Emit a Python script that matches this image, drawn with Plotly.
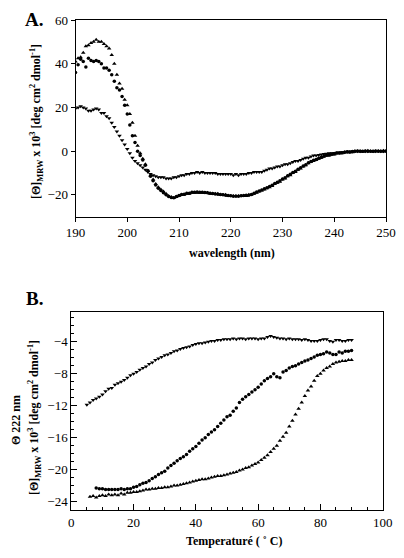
import plotly.graph_objects as go

W, H = 404, 558
BODY = 8  # default page margin around the plot div
FW, FH = W - 2 * BODY, H - 2 * BODY

# ---------------- Panel A data (wavelength scan, 0.5 nm steps) ----------------
wl_start, wl_step = 190.0, 0.5
cd_up = [41, 42.5, 43, 45, 48, 48.5, 49.5, 50, 51, 50, 50, 49, 48, 47, 44, 40, 35, 31, 28.5, 23.5,
         21, 17, 13, 7, 2.5, -1, -3.5, -6, -9, -11, -13, -15, -16.5, -17.5, -18.5, -19.5, -20.5, -21, -21.5, -21,
         -20.5, -20, -20, -19.5, -19.5, -19, -19, -19, -19, -19, -19, -19, -19.5, -19.5, -19.5, -19.5, -20, -20, -20, -20.5,
         -20.5, -20.5, -20.5, -20.5, -20.5, -20.5, -20.5, -20, -20, -19.5, -19, -18.5, -18, -17.5, -17, -16.5, -16, -15, -14.5, -14,
         -13, -12.5, -11.5, -11, -10, -9.5, -8.5, -8, -7, -6.5, -5.5, -5, -4.5, -4, -3.5, -3, -2.5, -2, -2, -1.5,
         -1.5, -1, -1, -1, -0.5, -0.5, -0.5, -0.5, 0, 0, 0, -0.3, 0, 0.2, 0, -0.2, 0, 0.1, 0, 0.2, 0]
cd_circ = [36, 39.5, 42, 41, 38.5, 42.5, 41.5, 41, 41.5, 41, 40, 38, 38, 37, 35, 32, 29, 28, 25, 21,
           17, 12, 7, 4, 0, -2, -4, -6.5, -9, -11.5, -13.5, -15.5, -17, -18, -19, -20, -20.8, -21.2, -21.3, -20.8,
           -20.3, -19.8, -19.7, -19.3, -19.3, -18.8, -18.8, -18.7, -18.8, -18.8, -18.9, -19, -19.3, -19.4, -19.6, -19.7, -19.8, -20, -20.2, -20.3,
           -20.4, -20.6, -20.6, -20.6, -20.4, -20.3, -20.2, -20.2, -19.8, -19.3, -18.7, -18.2, -17.8, -17.2, -16.8, -16.2, -15.6, -14.8, -14.2, -13.6,
           -12.8, -12.2, -11.3, -10.6, -9.8, -9.2, -8.3, -7.6, -6.8, -6.2, -5.3, -4.8, -4.2, -3.8, -3.2, -2.8, -2.3, -1.9, -1.8, -1.4,
           -1.2, -0.9, -0.8, -0.7, -0.5, -0.3, -0.4, -0.2, -0.1, 0.1, 0, 0, 0.1, 0, -0.1, 0, 0.1, 0, 0, 0, 0.1]
cd_down = [19.5, 20, 20.5, 20, 19.5, 18.5, 18.5, 19, 19.5, 19, 17.5, 17.5, 16, 15, 13, 11, 9, 7, 5, 3,
           1, -1, -3, -4.5, -5.5, -6.5, -7.5, -8.5, -9.5, -10.5, -11, -11.5, -12, -12, -12, -12.5, -12.5, -12.5, -12, -12,
           -11.5, -11, -11, -10.5, -10.5, -10, -10, -9.5, -10, -9.5, -10, -10, -10, -10, -10, -10.5, -10.5, -10.5, -10.5, -10.5,
           -10.5, -11, -10.5, -11, -10.5, -10.5, -10.5, -10, -10, -9.5, -9.5, -9.5, -9.5, -9, -8.5, -8, -8, -7.5, -7, -7,
           -6.5, -6, -6, -5.5, -5, -4.5, -4.5, -4, -3.5, -3, -3, -2.5, -2, -2, -1.8, -1.5, -1.3, -1.2, -1, -1,
           -0.8, -0.7, -0.6, -0.5, -0.4, -0.3, -0.3, -0.2, -0.1, 0, 0, 0.1, 0, 0, 0.1, 0, 0, 0.1, 0, 0, 0]
wl = [wl_start + i * wl_step for i in range(len(cd_up))]

# ---------------- Panel B data (thermal melt, 1 degC steps) ----------------
temp_down = list(range(5, 91))
melt_down = [-11.9, -11.6, -11.3, -11.1, -10.9, -10.6, -10.2, -9.9, -9.8, -9.4,
             -9.2, -9.0, -8.8, -8.5, -8.2, -8.0, -7.8, -7.5, -7.3, -7.1,
             -6.8, -6.6, -6.3, -6.1, -5.9, -5.7, -5.6, -5.4, -5.2, -5.1,
             -4.9, -4.8, -4.7, -4.6, -4.4, -4.3, -4.2, -4.2, -4.1, -4.0,
             -3.9, -3.9, -3.8, -3.8, -3.7, -3.7, -3.7, -3.6, -3.7, -3.6,
             -3.6, -3.7, -3.6, -3.6, -3.6, -3.7, -3.6, -3.6, -3.4, -3.3,
             -3.4, -3.5, -3.6, -3.6, -3.7, -3.6, -3.7, -3.7, -3.7, -3.8,
             -3.7, -3.8, -3.9, -3.9, -3.9, -3.8, -3.7, -3.7, -3.9, -4.0,
             -3.8, -3.8, -3.9, -3.9, -3.8, -3.8]
temp_circ = list(range(8, 91))
melt_circ = [-22.3, -22.4, -22.4, -22.5, -22.5, -22.5, -22.5, -22.5, -22.4, -22.5,
             -22.4, -22.4, -22.2, -22.1, -21.9, -21.7, -21.6, -21.4, -21.1, -20.9,
             -20.6, -20.4, -20.2, -19.8, -19.5, -19.2, -18.9, -18.6, -18.4, -18.1,
             -17.7, -17.4, -17.1, -16.7, -16.3, -16.0, -15.6, -15.3, -15.0, -14.6,
             -14.2, -13.8, -13.4, -13.2, -12.7, -12.3, -11.6, -11.2, -10.9, -10.6,
             -10.3, -10.0, -9.7, -9.3, -8.9, -8.6, -8.4, -8.0, -8.4, -8.5,
             -7.8, -7.6, -7.3, -7.1, -7.0, -6.8, -6.6, -6.4, -6.3, -6.1,
             -5.9, -5.7, -5.6, -5.5, -5.3, -5.4, -5.6, -5.6, -5.3, -5.4,
             -5.2, -5.2, -5.1]
temp_up = list(range(6, 91))
melt_up = [-23.4, -23.3, -23.5, -23.3, -23.2, -23.3, -23.1, -23.2, -23.1, -23.2,
           -23.0, -23.1, -22.9, -22.9, -22.8, -22.8, -22.7, -22.6, -22.5, -22.5,
           -22.4, -22.4, -22.3, -22.3, -22.2, -22.2, -22.1, -22.0, -22.0, -21.9,
           -21.8, -21.7, -21.6, -21.5, -21.4, -21.3, -21.2, -21.2, -21.1, -21.0,
           -20.9, -20.8, -20.8, -20.7, -20.6, -20.5, -20.4, -20.3, -20.1, -20.0,
           -19.8, -19.7, -19.5, -19.3, -19.1, -18.8, -18.5, -18.2, -17.8, -17.4,
           -17.0, -16.4, -15.9, -15.4, -14.6, -13.9, -13.1, -12.4, -11.6, -10.8,
           -10.1, -9.6, -8.9, -8.3, -8.0, -7.6, -7.3, -7.1, -6.8, -6.6,
           -6.5, -6.4, -6.4, -6.3, -6.3]

FONT = "Liberation Serif, Times New Roman, serif"


def px(x):
    return (x - BODY) / FW


def py(y):
    return 1 - (y - BODY) / FH


fig = go.Figure()
tri = dict(color="black", size=4, line=dict(width=0))
dot = dict(color="black", size=3.5, line=dict(width=0))
fig.add_trace(go.Scatter(x=wl, y=cd_up, mode="markers", marker=dict(symbol="triangle-up", **tri),
                         xaxis="x", yaxis="y", showlegend=False))
fig.add_trace(go.Scatter(x=wl, y=cd_circ, mode="markers", marker=dict(symbol="circle", **dot),
                         xaxis="x", yaxis="y", showlegend=False))
fig.add_trace(go.Scatter(x=wl, y=cd_down, mode="markers", marker=dict(symbol="triangle-down", **tri),
                         xaxis="x", yaxis="y", showlegend=False))
fig.add_trace(go.Scatter(x=temp_down, y=melt_down, mode="markers", marker=dict(symbol="triangle-down", **tri),
                         xaxis="x2", yaxis="y2", showlegend=False))
fig.add_trace(go.Scatter(x=temp_circ, y=melt_circ, mode="markers", marker=dict(symbol="circle", **dot),
                         xaxis="x2", yaxis="y2", showlegend=False))
fig.add_trace(go.Scatter(x=temp_up, y=melt_up, mode="markers", marker=dict(symbol="triangle-up", **tri),
                         xaxis="x2", yaxis="y2", showlegend=False))

tickfont = dict(family=FONT, size=13, color="black")
axcommon = dict(showline=True, linecolor="black", linewidth=1, mirror=True, showgrid=False,
                zeroline=False, tickfont=tickfont, tickcolor="black", automargin=False)

fig.update_layout(
    template="none",
    width=FW, height=FH, margin=dict(l=0, r=0, t=0, b=0, pad=0),
    paper_bgcolor="white", plot_bgcolor="white",
    xaxis=dict(domain=[px(75.5), px(386)], range=[190, 250], tick0=190, dtick=10,
               ticks="outside", ticklen=4, anchor="y", **axcommon),
    yaxis=dict(domain=[py(216.7), py(20)], range=[-30, 60], tick0=0, dtick=20,
               ticks="outside", ticklen=4, anchor="x", **axcommon),
    xaxis2=dict(domain=[px(71.3), px(382.7)], range=[0, 100], tick0=0, dtick=20,
                ticks="inside", ticklen=6, anchor="y2",
                minor=dict(dtick=5, ticklen=3, ticks="inside", tickcolor="black"), **axcommon),
    yaxis2=dict(domain=[py(510), py(311.7)], range=[-25.05, -0.25], tick0=0, dtick=4,
                ticks="inside", ticklen=6, anchor="x2",
                minor=dict(dtick=1, ticklen=3, ticks="inside", tickcolor="black"), **axcommon),
)

ann_font = dict(family=FONT, color="black")
ylab = "<b>[Θ]<sub>MRW</sub> x 10<sup>3</sup> [deg cm<sup>2</sup> dmol<sup>-1</sup>]</b>"
annotations = [
    dict(x=px(34), y=py(19.5), text="<b>A.</b>", font=dict(size=19, **ann_font)),
    dict(x=px(34), y=py(298), text="<b>B.</b>", font=dict(size=19, **ann_font)),
    dict(x=px(36), y=py(122), text=ylab, textangle=-90, font=dict(size=12, **ann_font)),
    dict(x=px(16), y=py(420), text="<b>Θ 222 nm</b>", textangle=-90, font=dict(size=12, **ann_font)),
    dict(x=px(34), y=py(418), text=ylab, textangle=-90, font=dict(size=12, **ann_font)),
    dict(x=px(232), y=py(253), text="<b>wavelength (nm)</b>", font=dict(size=12, **ann_font)),
    dict(x=px(234), y=py(541), text="<b>Temperaturé ( ˚ C)</b>", font=dict(size=12, **ann_font)),
]
for a in annotations:
    a.update(xref="paper", yref="paper", showarrow=False, xanchor="center", yanchor="middle")
fig.update_layout(annotations=annotations)

fig.write_html("out.html")
